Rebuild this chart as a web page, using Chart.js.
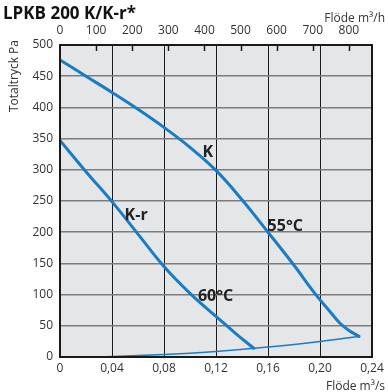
<!DOCTYPE html>
<html>
<head>
<meta charset="utf-8">
<script src="https://cdn.jsdelivr.net/npm/chart.js@4/dist/chart.umd.min.js"></script>
<style>
  html, body { margin: 0; padding: 0; background: #fff; }
  #wrap { width: 388px; height: 392px; }
</style>
</head>
<body>
<div id="wrap"><canvas id="myChart" width="388" height="392"></canvas></div>
<script>
  // flow in m3/s, pressure in Pa
  const kFlow = [0, 0.02, 0.04, 0.06, 0.08, 0.10, 0.12, 0.14, 0.16, 0.18, 0.196, 0.206, 0.215, 0.222, 0.23];
  const kPressure = [476, 450, 424, 397, 368, 336, 299, 252, 200, 147, 102, 77, 55, 43, 33];

  const krFlow = [0, 0.02, 0.04, 0.06, 0.08, 0.10, 0.12, 0.135, 0.149];
  const krPressure = [347, 297, 249, 197, 145, 102, 65, 38, 14];

  const sysFlow = [0, 0.04, 0.08, 0.12, 0.16, 0.20, 0.23];
  const sysPressure = [0, 1, 4, 9, 16, 25, 33];

  const curveLabels = ['K', 'K-r', '55°C', '60°C'];
  const labelFlow = [0.1097, 0.0497, 0.1597, 0.1061];
  const labelPressure = [320, 219, 202, 90];

  const m3sTicks = [0, 0.04, 0.08, 0.12, 0.16, 0.20, 0.24];
  const m3hTicks = [0, 100, 200, 300, 400, 500, 600, 700, 800];

  const blue = '#1a7cc2';
  const font = '"Open Sans", "Noto Sans", sans-serif';

  const toPoints = (xs, ys) => xs.map((x, i) => ({ x: x, y: ys[i] }));

  const plotDecor = {
    id: 'plotDecor',
    beforeDraw: (chart) => {
      const a = chart.chartArea;
      const ctx = chart.ctx;
      ctx.save();
      ctx.fillStyle = '#e5e6e8';
      ctx.fillRect(a.left, a.top, a.right - a.left, a.bottom - a.top);
      ctx.restore();
    },
    afterDatasetsDraw: (chart) => {
      const a = chart.chartArea;
      const ctx = chart.ctx;
      const x2 = chart.scales.x2;
      const x = chart.scales.x;
      const y = chart.scales.y;
      ctx.save();
      // frame
      ctx.strokeStyle = '#1a1a1a';
      ctx.lineWidth = 2;
      ctx.strokeRect(a.left, a.top, a.right - a.left, a.bottom - a.top);
      // top axis tick marks pointing inside
      ctx.lineWidth = 1.5;
      m3hTicks.slice(1).forEach((v) => {
        const px = Math.round(x2.getPixelForValue(v)) + 0.5;
        ctx.beginPath();
        ctx.moveTo(px, a.top);
        ctx.lineTo(px, a.top + 6);
        ctx.stroke();
      });
      // curve labels
      ctx.fillStyle = '#222';
      ctx.font = 'bold 16px ' + font;
      ctx.textAlign = 'left';
      ctx.textBaseline = 'alphabetic';
      curveLabels.forEach((t, i) => {
        ctx.fillText(t, x.getPixelForValue(labelFlow[i]), y.getPixelForValue(labelPressure[i]));
      });
      // title
      ctx.font = 'bold 17px ' + font;
      ctx.fillStyle = '#111';
      ctx.fillText('LPKB 200 K/K-r*', 3, 19);
      // unit labels
      ctx.font = '12px ' + font;
      ctx.fillStyle = '#333';
      ctx.textAlign = 'right';
      ctx.fillText('Flöde m³/h', 385, 22);
      ctx.fillText('Flöde m³/s', 385, 390);
      ctx.translate(18, 40);
      ctx.rotate(-Math.PI / 2);
      ctx.fillText('Totaltryck Pa', 0, 0);
      ctx.restore();
    }
  };

  const data = {
    datasets: [
      {
        label: 'K',
        data: toPoints(kFlow, kPressure),
        borderColor: blue,
        borderWidth: 3,
      },
      {
        label: 'K-r',
        data: toPoints(krFlow, krPressure),
        borderColor: blue,
        borderWidth: 3,
      },
      {
        label: 'system',
        data: toPoints(sysFlow, sysPressure),
        borderColor: blue,
        borderWidth: 1.5,
      },
    ]
  };

  const tickFont = { family: font, size: 12 };

  const config = {
    type: 'scatter',
    data: data,
    options: {
      responsive: false,
      animation: false,
      showLine: true,
      elements: {
        point: { radius: 0 },
        line: { tension: 0.4, borderCapStyle: 'round', borderJoinStyle: 'round' },
      },
      layout: { padding: { left: 0, right: 16, top: 0, bottom: 0 } },
      scales: {
        x: {
          type: 'linear',
          position: 'bottom',
          min: 0,
          max: 0.24,
          afterBuildTicks: (s) => { s.ticks = m3sTicks.map(v => ({ value: v })); },
          afterFit: (s) => { s.height = 35; },
          grid: { color: '#1a1a1a', lineWidth: 1, drawTicks: false },
          border: { display: false },
          ticks: {
            color: '#333',
            font: tickFont,
            padding: 4,
            maxRotation: 0,
            callback: (v) => v === 0 ? '0' : v.toFixed(2).replace('.', ','),
          },
        },
        x2: {
          type: 'linear',
          position: 'top',
          min: 0,
          max: 864,
          afterBuildTicks: (s) => { s.ticks = m3hTicks.map(v => ({ value: v })); },
          afterFit: (s) => { s.height = 45; },
          grid: { display: false, drawTicks: false },
          border: { display: false },
          ticks: { color: '#333', font: tickFont, padding: 7, maxRotation: 0 },
        },
        y: {
          min: 0,
          max: 500,
          afterBuildTicks: (s) => { s.ticks = [0, 50, 100, 150, 200, 250, 300, 350, 400, 450, 500].map(v => ({ value: v })); },
          afterFit: (s) => { s.width = 60; },
          grid: { color: '#7d7d7d', lineWidth: 1.5, drawTicks: false },
          border: { display: false },
          ticks: { color: '#333', font: tickFont, padding: 7 },
        },
      },
      plugins: {
        legend: { display: false },
        tooltip: { enabled: false },
      },
    },
    plugins: [plotDecor],
  };

  const myChart = new Chart(
    document.getElementById('myChart'),
    config
  );
</script>
</body>
</html>
